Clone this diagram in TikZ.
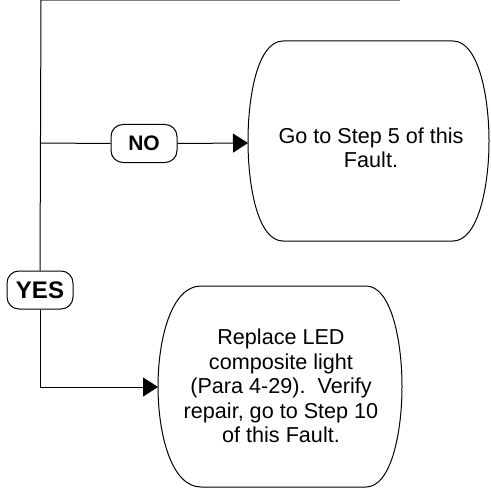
\documentclass[tikz,border=0pt]{standalone}
\usepackage{fontspec}
\setmainfont{Liberation Sans}
\usetikzlibrary{arrows.meta}
\begin{document}
\begin{tikzpicture}[x=1pt,y=-1pt,line width=1pt,
  lbl/.style={draw,rounded corners=12pt,minimum width=66pt,minimum height=38pt,inner sep=0pt,fill=white},
  txt/.style={align=center,inner sep=0pt,font=\fontsize{21.6}{24.5}\selectfont},
  arr/.style={-{Triangle[length=15pt,width=19pt]}},
  term/.style={draw,line join=round}]
\useasboundingbox (0,0) rectangle (490,497);
% top line
\coordinate (tl) at (41,0.5);
\coordinate (tr) at (400,0.5);
\draw[gray] (tl) -- (tr);
\coordinate (vtop) at (41,0);
\coordinate (vno) at (41,143);
\coordinate (vend) at (41,387);
% terminals
\draw[term] (283,41) -- (453,41) .. controls (478,41) and (489,95) .. (489,141)
  .. controls (489,187) and (478,241) .. (453,241) -- (283,241)
  .. controls (258,241) and (248,187) .. (248,141)
  .. controls (248,95) and (258,41) .. (283,41) -- cycle;
\coordinate (b1w) at (248,143);
\node[txt] (b1) at (371,148) {Go to Step 5 of this\\Fault.};
\draw[term] (201,286) -- (366,286) .. controls (391,286) and (402,340) .. (402,386.5)
  .. controls (402,433) and (391,487) .. (366,487) -- (201,487)
  .. controls (171,487) and (158,433) .. (158,386.5)
  .. controls (158,340) and (171,286) .. (201,286) -- cycle;
\coordinate (b2w) at (158,387);
\node[txt] (b2) at (281,386) {Replace LED\\composite light\\(Para 4-29).\ \ Verify\\repair, go to Step 10\\of this Fault.};
% labels
\node[lbl,font=\bfseries\fontsize{21}{24}\selectfont] (no) at (144,143.5) {NO};
\node[lbl,font=\bfseries\fontsize{24}{26}\selectfont] (yes) at (40,290) {YES};
% connectors
\draw (vtop) -- (yes.north);
\draw (vno) -- (no.west);
\draw[arr] (no.east) -- (b1w);
\draw[arr] (yes.south) |- (b2w);
\end{tikzpicture}
\end{document}
